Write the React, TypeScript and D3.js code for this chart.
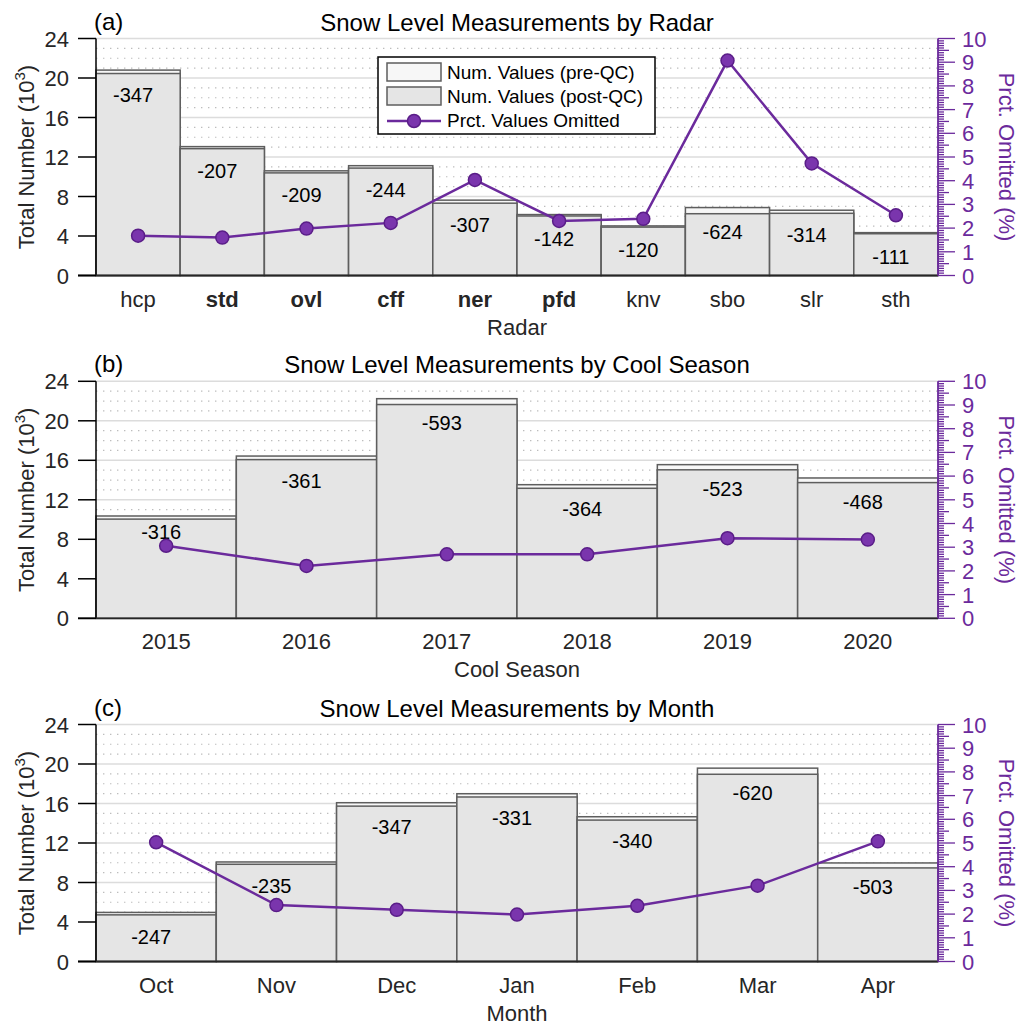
import React from "react";
import * as d3 from "d3";

// ---- Radar panel (counts in thousands; omitted in raw counts; percent omitted) ----
const radarCats = ["hcp", "std", "ovl", "cff", "ner", "pfd", "knv", "sbo", "slr", "sth"];
const radarBold = ["std", "ovl", "cff", "ner", "pfd"];
const radarPreQC = [20.8, 13.05, 10.6, 11.12, 7.63, 6.17, 5.02, 6.88, 6.61, 4.34];
const radarOmitted = [347, 207, 209, 244, 307, 142, 120, 624, 314, 111];
const radarPct = [1.68, 1.6, 1.98, 2.22, 4.03, 2.3, 2.39, 9.07, 4.73, 2.54];

// ---- Cool season panel ----
const seasonCats = ["2015", "2016", "2017", "2018", "2019", "2020"];
const seasonPreQC = [10.36, 16.43, 22.24, 13.53, 15.56, 14.21];
const seasonOmitted = [316, 361, 593, 364, 523, 468];
const seasonPct = [3.06, 2.21, 2.7, 2.7, 3.38, 3.32];

// ---- Month panel ----
const monthCats = ["Oct", "Nov", "Dec", "Jan", "Feb", "Mar", "Apr"];
const monthPreQC = [4.97, 10.08, 16.08, 16.99, 14.66, 19.58, 9.98];
const monthOmitted = [247, 235, 347, 331, 340, 620, 503];
const monthPct = [5.03, 2.38, 2.18, 1.98, 2.35, 3.2, 5.07];

const countTicks = [0, 4, 8, 12, 16, 20, 24];
const pctTicks = [0, 1, 2, 3, 4, 5, 6, 7, 8, 9, 10];

const FONT = "'Liberation Sans', Arial, Helvetica, sans-serif";
const PURPLE = "#6b2a9c";
const DOT_FILL = "#7a35ad";
const DOT_STROKE = "#5a1d88";
const AXIS_GRAY = "#262626";
const BAR_EDGE = "#5e5e5e";
const PRE_FILL = "#f7f7f7";
const POST_FILL = "#e5e5e5";

const L = 96;
const R = 938;
const PH = 237;

type PanelProps = {
  tag: string;
  title: string;
  xLabel: string;
  cats: string[];
  pre: number[];
  omitted: number[];
  pct: number[];
  top: number;
  bold?: string[];
  labelLift?: Record<string, number>;
  legend?: boolean;
};

function Panel({ tag, title, xLabel, cats, pre, omitted, pct, top, bold = [], labelLift = {}, legend }: PanelProps) {
  const bottom = top + PH;
  const x = d3.scaleBand<string>().domain(cats).range([L, R]).padding(0);
  const y = d3.scaleLinear().domain([0, 24]).range([bottom, top]);
  const yp = d3.scaleLinear().domain([0, 10]).range([bottom, top]);
  const bw = x.bandwidth();
  const cx = (c: string) => (x(c) as number) + bw / 2;

  const minorGrid = d3.range(1, 24).filter((v) => v % 4 !== 0);
  const majorGrid = countTicks.filter((v) => v > 0);
  const pctMinor = d3.range(0, 101).map((v) => v / 10);

  const line = d3
    .line<number>()
    .x((_, i) => cx(cats[i]))
    .y((d) => yp(d));

  const midY = (top + bottom) / 2;

  return (
    <g>
      {/* grid */}
      {minorGrid.map((v) => (
        <line key={"mg" + v} x1={L} x2={R} y1={y(v)} y2={y(v)} stroke="#bdbdbd" strokeWidth={1.2} strokeDasharray="1.4 5.6" />
      ))}
      {majorGrid.map((v) => (
        <line key={"MG" + v} x1={L} x2={R} y1={y(v)} y2={y(v)} stroke="#dcdcdc" strokeWidth={1.6} />
      ))}

      {/* bars: pre-QC behind, post-QC in front */}
      {cats.map((c, i) => {
        const post = pre[i] - omitted[i] / 1000;
        return (
          <g key={"b" + c}>
            <rect x={x(c)} y={y(pre[i])} width={bw} height={y(0) - y(pre[i])} fill={PRE_FILL} stroke={BAR_EDGE} strokeWidth={1.5} />
            <rect x={x(c)} y={y(post)} width={bw} height={y(0) - y(post)} fill={POST_FILL} stroke={BAR_EDGE} strokeWidth={1.5} />
          </g>
        );
      })}

      {/* omitted count labels */}
      {cats.map((c, i) => (
        <text
          key={"l" + c}
          x={cx(c) - 5}
          y={y(pre[i]) + 31.5 - (labelLift[c] || 0)}
          fontSize={20}
          fontFamily={FONT}
          textAnchor="middle"
          fill="#000"
        >
          {"-" + omitted[i]}
        </text>
      ))}

      {/* left axis */}
      <line x1={L} x2={L} y1={top} y2={bottom} stroke="#000" strokeWidth={1.5} />
      <line x1={L - 18} x2={R} y1={bottom} y2={bottom} stroke="#262626" strokeWidth={1.8} />
      {countTicks.map((v) => (
        <g key={"yt" + v}>
          <line x1={L - 18} x2={L} y1={y(v)} y2={y(v)} stroke="#000" strokeWidth={1.5} />
          <text x={L - 27} y={y(v) + 8} fontSize={22} fontFamily={FONT} textAnchor="end" fill={AXIS_GRAY}>
            {v}
          </text>
        </g>
      ))}
      <text transform={`translate(34,${midY}) rotate(-90)`} fontSize={22} fontFamily={FONT} textAnchor="middle" fill={AXIS_GRAY}>
        Total Number (10
        <tspan fontSize={15} dy={-9}>
          3
        </tspan>
        <tspan dy={9}>)</tspan>
      </text>

      {/* right axis */}
      <line x1={R} x2={R} y1={top} y2={bottom} stroke={PURPLE} strokeWidth={1.8} />
      {pctMinor.map((v) => {
        const r10 = Math.round(v * 10);
        const len = r10 % 10 === 0 ? 17 : r10 % 5 === 0 ? 11 : 6;
        return <line key={"pt" + r10} x1={R} x2={R + len} y1={yp(v)} y2={yp(v)} stroke={PURPLE} strokeWidth={1.3} />;
      })}
      {pctTicks.map((v) => (
        <text key={"ptl" + v} x={R + 24} y={yp(v) + 8} fontSize={22} fontFamily={FONT} fill={PURPLE}>
          {v}
        </text>
      ))}
      <text transform={`translate(${R + 61},${midY}) rotate(90)`} fontSize={22} fontFamily={FONT} textAnchor="middle" fill={PURPLE}>
        Prct. Omitted (%)
      </text>

      {/* percent omitted line */}
      <path d={line(pct) || ""} fill="none" stroke={PURPLE} strokeWidth={2.5} />
      {cats.map((c, i) => (
        <circle key={"d" + c} cx={cx(c)} cy={yp(pct[i])} r={6.5} fill={DOT_FILL} stroke={DOT_STROKE} strokeWidth={1.5} />
      ))}

      {/* x tick labels */}
      {cats.map((c) => (
        <text
          key={"xt" + c}
          x={cx(c)}
          y={bottom + 31}
          fontSize={22}
          fontFamily={FONT}
          textAnchor="middle"
          fontWeight={bold.includes(c) ? "bold" : "normal"}
          fill={AXIS_GRAY}
        >
          {c}
        </text>
      ))}
      <text x={(L + R) / 2} y={bottom + 59} fontSize={22} fontFamily={FONT} textAnchor="middle" fill={AXIS_GRAY}>
        {xLabel}
      </text>

      {/* title and panel tag */}
      <text x={(L + R) / 2} y={top - 8} fontSize={24} fontFamily={FONT} textAnchor="middle" fill="#000">
        {title}
      </text>
      <text x={L - 2} y={top - 9} fontSize={24} fontFamily={FONT} fill="#000">
        {tag}
      </text>

      {legend && (
        <g>
          <rect x={378} y={57} width={277} height={77} fill="#fff" stroke="#000" strokeWidth={1.5} />
          <rect x={387} y={63} width={54} height={18} fill={PRE_FILL} stroke={BAR_EDGE} strokeWidth={1.5} />
          <rect x={387} y={87} width={54} height={18} fill={POST_FILL} stroke={BAR_EDGE} strokeWidth={1.5} />
          <line x1={387} x2={441} y1={121} y2={121} stroke={PURPLE} strokeWidth={2.5} />
          <circle cx={414} cy={121} r={6.5} fill={DOT_FILL} stroke={DOT_STROKE} strokeWidth={1.5} />
          <text x={447} y={79} fontSize={19} fontFamily={FONT} fill="#000">Num. Values (pre-QC)</text>
          <text x={447} y={103} fontSize={19} fontFamily={FONT} fill="#000">Num. Values (post-QC)</text>
          <text x={447} y={127} fontSize={19} fontFamily={FONT} fill="#000">Prct. Values Omitted</text>
        </g>
      )}
    </g>
  );
}

export default function App() {
  return (
    <svg width={1018} height={1026} style={{ position: "absolute", left: 0, top: 0, background: "#fff" }}>
      <rect x={0} y={0} width={1018} height={1026} fill="#fff" />
      <Panel
        tag="(a)"
        title="Snow Level Measurements by Radar"
        xLabel="Radar"
        cats={radarCats}
        pre={radarPreQC}
        omitted={radarOmitted}
        pct={radarPct}
        top={38.5}
        bold={radarBold}
        legend
      />
      <Panel
        tag="(b)"
        title="Snow Level Measurements by Cool Season"
        xLabel="Cool Season"
        cats={seasonCats}
        pre={seasonPreQC}
        omitted={seasonOmitted}
        pct={seasonPct}
        top={381.3}
        labelLift={{ "2015": 8 }}
      />
      <Panel
        tag="(c)"
        title="Snow Level Measurements by Month"
        xLabel="Month"
        cats={monthCats}
        pre={monthPreQC}
        omitted={monthOmitted}
        pct={monthPct}
        top={724.5}
      />
    </svg>
  );
}
